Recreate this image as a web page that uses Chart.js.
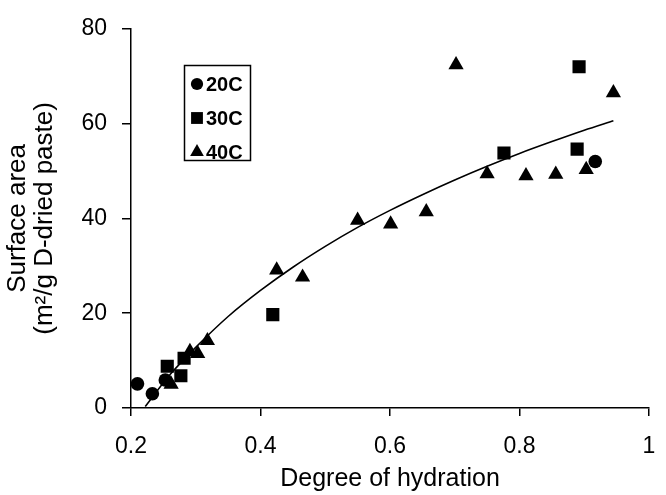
<!DOCTYPE html>
<html>
<head>
<meta charset="utf-8">
<script src="https://cdn.jsdelivr.net/npm/chart.js@4.4.0/dist/chart.umd.min.js"></script>
<style>
html,body{margin:0;padding:0;background:#fff}
#wrap{width:666px;height:495px}
</style>
</head>
<body>
<div id="wrap"><canvas id="chart" width="666" height="495"></canvas></div>
<script>
// values
const seriesNames = ['20C', '30C', '40C'];

const x20 = [0.210, 0.233, 0.253, 0.917];
const y20 = [5.1, 3.0, 5.9, 52.0];

const x30 = [0.256, 0.277, 0.282, 0.419, 0.776, 0.889, 0.892];
const y30 = [8.8, 6.8, 10.5, 19.7, 53.8, 54.6, 72.0];

const x40 = [0.262, 0.291, 0.303, 0.318, 0.425, 0.465, 0.550, 0.601, 0.656, 0.702, 0.750, 0.810, 0.856, 0.903, 0.945];
const y40 = [5.0, 11.9, 11.5, 14.2, 29.1, 27.6, 39.6, 38.8, 41.4, 72.4, 49.4, 49.0, 49.3, 50.3, 66.5];

// trend curve
const fitX = [0.222, 0.26, 0.30, 0.35, 0.40, 0.45, 0.50, 0.55, 0.60, 0.65, 0.70, 0.75, 0.80, 0.85, 0.90, 0.945];
const fitY = [0.3, 7.0, 12.8, 19.3, 24.8, 29.7, 34.1, 38.1, 41.7, 45.0, 48.1, 51.0, 53.7, 56.2, 58.6, 60.6];

const xTickValues = [0.2, 0.4, 0.6, 0.8, 1.0];
const xTickLabels = ['0.2', '0.4', '0.6', '0.8', '1'];
const yTickValues = [0, 20, 40, 60, 80];
const yTickLabels = ['0', '20', '40', '60', '80'];

const xTitle = 'Degree of hydration';
const yTitle = ['Surface area', '(m\u00b2/g D-dried paste)'];

const FONT = '"Liberation Sans", Arial, sans-serif';

function pts(xs, ys){ return xs.map((x, i) => ({x, y: ys[i]})); }

const legendBox = {
  id: 'legendBox',
  afterDatasetsDraw(chart){
    const ctx = chart.ctx;
    ctx.save();
    ctx.strokeStyle = '#000';
    ctx.lineWidth = 1.5;
    ctx.strokeRect(184.5, 65.5, 66, 95);
    ctx.fillStyle = '#000';
    ctx.font = 'bold 20px ' + FONT;
    ctx.textBaseline = 'middle';
    seriesNames.forEach((name, i) => {
      const ds = chart.data.datasets[i];
      const y = 84 + i * 34;
      Chart.helpers.drawPoint(ctx, {pointStyle: ds.pointStyle, radius: ds.pointRadius * 0.9, rotation: 0, borderWidth: 0}, 197, y);
      ctx.fillText(name, 206, y + 1);
    });
    ctx.restore();
  }
};

const marker = (style, r) => ({
  type: 'scatter', pointStyle: style, pointRadius: r, pointHoverRadius: r,
  backgroundColor: '#000', borderColor: '#000', borderWidth: 0, order: 1
});

new Chart(document.getElementById('chart'), {
  type: 'scatter',
  data: {
    datasets: [
      {label: seriesNames[0], data: pts(x20, y20), ...marker('circle', 6.8)},
      {label: seriesNames[1], data: pts(x30, y30), ...marker('rect', 9.3)},
      {label: seriesNames[2], data: pts(x40, y40), ...marker('triangle', 8.8)},
      {label: 'fit', type: 'line', data: pts(fitX, fitY), borderColor: '#000', borderWidth: 1.6,
       pointRadius: 0, tension: 0.3, fill: false, order: 2}
    ]
  },
  options: {
    responsive: false,
    devicePixelRatio: 1,
    animation: false,
    layout: {padding: {top: 19, right: 17, bottom: 0, left: 0}},
    plugins: {legend: {display: false}, tooltip: {enabled: false}},
    scales: {
      x: {
        type: 'linear', min: 0.2, max: 1,
        afterBuildTicks: s => { s.ticks = xTickValues.map(v => ({value: v})); },
        afterFit: s => { s.height = 87; s.paddingLeft = 0; s.paddingRight = 0; },
        grid: {drawOnChartArea: false, drawTicks: true, tickLength: 8, color: '#000', lineWidth: 1.5},
        border: {color: '#000', width: 1.5},
        ticks: {color: '#000', font: {family: FONT, size: 23}, padding: 17, maxRotation: 0,
                callback: (v, i) => xTickLabels[i]},
        title: {display: true, text: xTitle, color: '#000', font: {family: FONT, size: 25}, padding: {top: 0, bottom: 1}}
      },
      y: {
        type: 'linear', min: 0, max: 80,
        afterBuildTicks: s => { s.ticks = yTickValues.map(v => ({value: v})); },
        afterFit: s => { s.width = 131; },
        grid: {drawOnChartArea: false, drawTicks: true, tickLength: 9, color: '#000', lineWidth: 1.5},
        border: {color: '#000', width: 1.5},
        ticks: {color: '#000', font: {family: FONT, size: 23}, padding: 15,
                callback: (v, i) => yTickLabels[i]},
        title: {display: true, text: yTitle, color: '#000', font: {family: FONT, size: 26, lineHeight: 1.05}, padding: {top: 4, bottom: 0}}
      }
    }
  },
  plugins: [legendBox]
});
</script>
</body>
</html>
